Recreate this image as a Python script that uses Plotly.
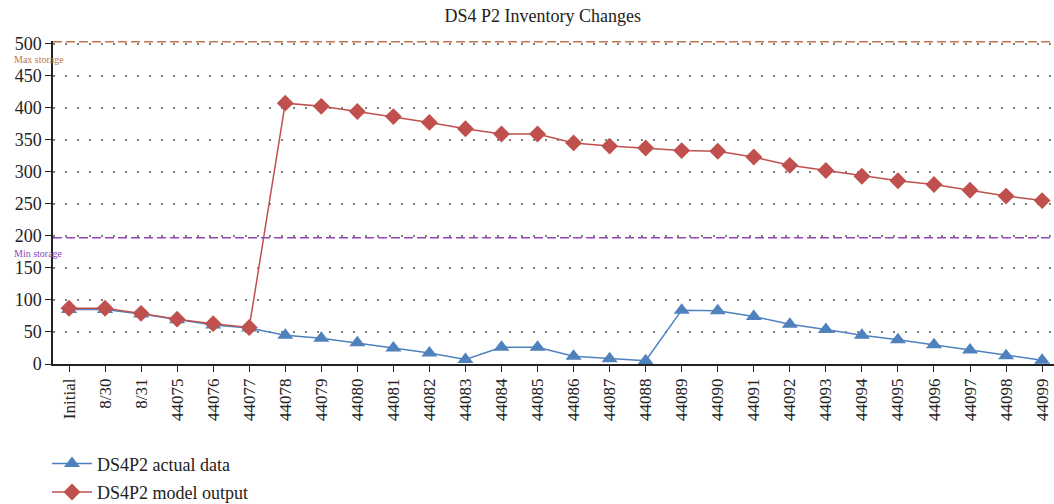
import plotly.graph_objects as go

categories = ["Initial", "8/30", "8/31"] + [str(d) for d in range(44075, 44100)]

actual = [85, 85, 78, 69, 61, 56, 45, 40, 33, 25, 17, 7, 26, 26, 12, 8, 5,
          84, 83, 74, 62, 54, 45, 38, 30, 22, 13, 6]
model = [87, 87, 79, 70, 63, 57, 407, 402, 394, 386, 377, 367, 359, 359, 345, 340, 337,
         333, 332, 323, 310, 302, 293, 286, 280, 271, 262, 255]

MAX_STORAGE = 503
MIN_STORAGE = 197

FONT = "Liberation Serif"
BLUE = "#4f81bd"
RED = "#c0504d"
MAXC = "#c0764a"
MINC = "#9046b8"

fig = go.Figure()
fig.add_trace(go.Scatter(
    x=categories, y=actual, mode="lines+markers", name="DS4P2 actual data",
    legendgroup="a",
    line=dict(color=BLUE, width=1.5),
    marker=dict(symbol="triangle-up", size=14, color=BLUE),
))
fig.add_trace(go.Scatter(
    x=categories, y=model, mode="lines+markers", name="DS4P2 model output",
    legendgroup="b",
    line=dict(color=RED, width=1.5),
    marker=dict(symbol="diamond", size=13, color=RED),
))

fig.add_shape(type="line", xref="paper", yref="y", x0=0, x1=1, y0=MAX_STORAGE, y1=MAX_STORAGE,
              line=dict(color=MAXC, width=1.5, dash="9px,4px"), layer="above")
fig.add_shape(type="line", xref="paper", yref="y", x0=0, x1=1, y0=MIN_STORAGE, y1=MIN_STORAGE,
              line=dict(color=MINC, width=1.5, dash="9px,4px"), layer="above")

fig.add_annotation(text="Max storage", xref="paper", yref="y", x=-0.041, y=MAX_STORAGE - 28,
                   xanchor="left", yanchor="middle", showarrow=False,
                   font=dict(family=FONT, size=10, color=MAXC))
fig.add_annotation(text="Min storage", xref="paper", yref="y", x=-0.041, y=MIN_STORAGE - 25,
                   xanchor="left", yanchor="middle", showarrow=False,
                   font=dict(family=FONT, size=10, color=MINC))

fig.update_layout(
    width=1054, height=504,
    margin=dict(l=53, r=0, t=41, b=140, autoexpand=False),
    paper_bgcolor="white", plot_bgcolor="white",
    font=dict(family=FONT, color="#222222"),
    title=dict(text="DS4 P2 Inventory Changes", xref="container", x=0.515, xanchor="center",
               yref="container", y=1 - 16 / 504, yanchor="middle",
               font=dict(family=FONT, size=18, color="#222222")),
    showlegend=True,
    legend=dict(x=-0.006, y=-0.252, xanchor="left", yanchor="top",
                traceorder="grouped", tracegroupgap=2,
                font=dict(family=FONT, size=18, color="#222222"),
                bgcolor="rgba(0,0,0,0)", itemwidth=40),
)

fig.update_xaxes(
    type="category", range=[-0.444, 27.33], automargin=False,
    tickangle=-90, tickfont=dict(family=FONT, size=17, color="#222222"),
    showline=True, linecolor="#222222", linewidth=1.5,
    ticks="outside", ticklen=6, tickcolor="#222222", tickwidth=1.2,
    showgrid=False, zeroline=False,
)
fig.update_yaxes(
    range=[0, 504], tickvals=list(range(0, 501, 50)), automargin=False,
    tickfont=dict(family=FONT, size=18, color="#222222"),
    showline=True, linecolor="#222222", linewidth=1.5,
    ticks="outside", ticklen=6, tickcolor="#222222", tickwidth=1.2,
    showgrid=True, gridcolor="#808080", gridwidth=1.5, griddash="2px,10px",
    zeroline=False,
)

fig.write_html("out.html", config={"displayModeBar": False})

with open("out.html", "r", encoding="utf-8") as f:
    html = f.read()
html = html.replace("<head>", "<head><style>html,body{margin:0;padding:0;overflow:hidden;}</style>", 1)
with open("out.html", "w", encoding="utf-8") as f:
    f.write(html)
